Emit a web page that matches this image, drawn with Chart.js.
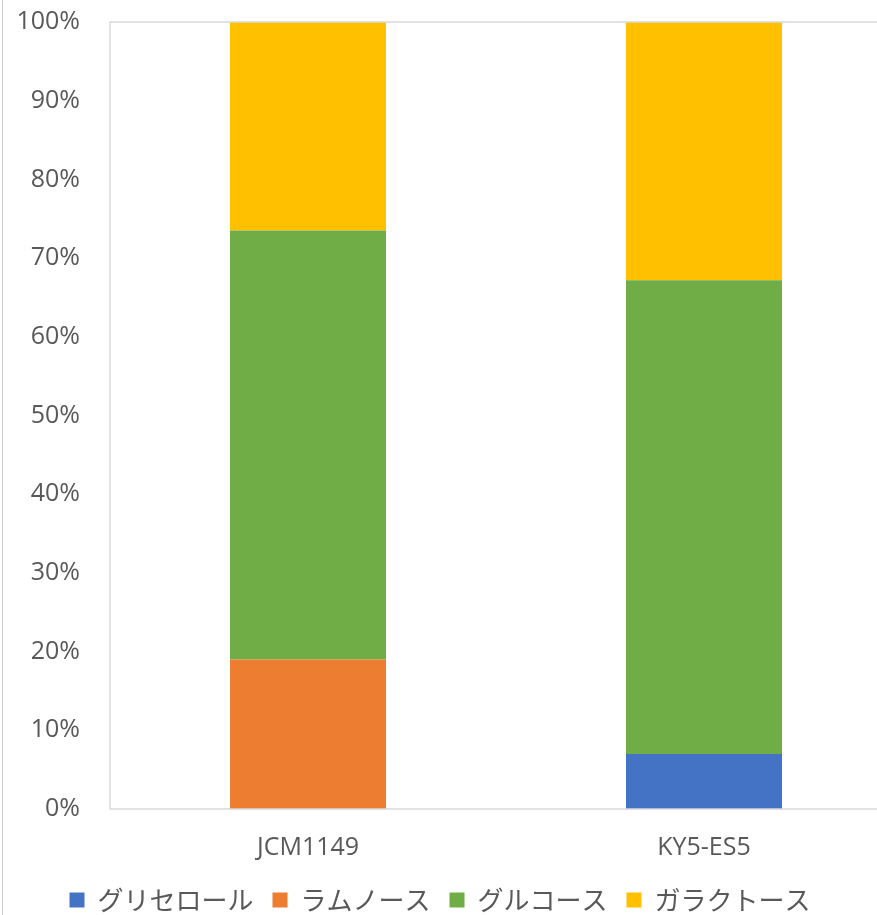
<!DOCTYPE html>
<html>
<head>
<meta charset="utf-8">
<script src="https://cdn.jsdelivr.net/npm/chart.js@4/dist/chart.umd.min.js"></script>
<style>
  html, body { margin: 0; padding: 0; background: #fff; overflow: hidden; }
  #frame { position: absolute; left: 2px; top: 0; width: 1px; height: 915px; background: #cfcfcf; }
  #wrap { position: absolute; left: -22px; top: 0; width: 924px; height: 923px; }
</style>
</head>
<body>
<div id="wrap"><canvas id="chart"></canvas></div>
<div id="frame"></div>
<script>
// Categories and series (percent of total)
const categories = ['JCM1149', 'KY5-ES5'];
const seriesNames = ['グリセロール', 'ラムノース', 'グルコース', 'ガラクトース'];
const glycerol = [0, 7];
const rhamnose = [19, 0];
const glucose = [54.5, 60.2];
const galactose = [26.5, 32.8];
const colors = ['#4472C4', '#ED7D31', '#70AD47', '#FFC000'];

const textGrey = '#595959';
const axisFont = { family: 'Open Sans', size: 25 };

// light grey box round the plot area
const plotBorder = {
    id: 'plotBorder',
    afterDraw(chart) {
        const a = chart.chartArea;
        const ctx = chart.ctx;
        ctx.save();
        ctx.strokeStyle = '#d9d9d9';
        ctx.lineWidth = 1.5;
        ctx.strokeRect(a.left, a.top, a.right - a.left, a.bottom - a.top);
        ctx.restore();
    }
};

const allSeries = [glycerol, rhamnose, glucose, galactose];
const datasets = allSeries.map((values, i) => ({
    label: seriesNames[i],
    data: values,
    backgroundColor: colors[i],
    borderWidth: 0,
    categoryPercentage: 1,
    barPercentage: 0.394
}));

new Chart(document.getElementById('chart'), {
    type: 'bar',
    data: { labels: categories, datasets: datasets },
    options: {
        responsive: true,
        maintainAspectRatio: false,
        animation: false,
        layout: { padding: { top: 22, right: 0, left: 0, bottom: 0 } },
        plugins: {
            tooltip: { enabled: false },
            legend: {
                position: 'bottom',
                labels: {
                    boxWidth: 15,
                    boxHeight: 15,
                    padding: 19,
                    color: textGrey,
                    font: { family: 'Noto Sans CJK JP', size: 26 }
                }
            }
        },
        scales: {
            x: {
                stacked: true,
                afterFit(scale) { scale.height -= 19; },
                grid: { display: false, drawTicks: false },
                border: { display: false },
                ticks: { color: textGrey, font: axisFont, padding: 24 }
            },
            y: {
                stacked: true,
                min: 0,
                max: 100,
                afterFit(scale) {
                    scale.width = 132;
                    scale.paddingTop = 0;
                    scale.paddingBottom = 0;
                },
                grid: { display: false, drawTicks: false },
                border: { display: false },
                ticks: {
                    stepSize: 10,
                    color: textGrey,
                    font: axisFont,
                    padding: 30,
                    callback: v => v + '%'
                }
            }
        }
    },
    plugins: [plotBorder]
});
</script>
</body>
</html>
